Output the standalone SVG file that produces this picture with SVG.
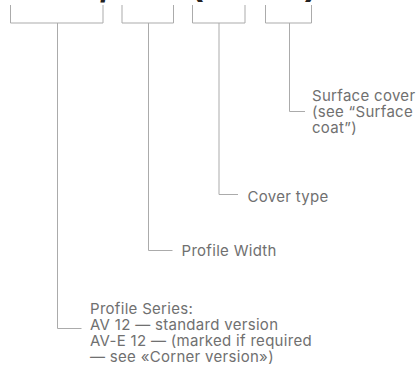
<svg xmlns="http://www.w3.org/2000/svg" width="418" height="367" viewBox="0 0 418 367">
<style>
.ln{fill:none;stroke:#ababab;stroke-width:1}
.t{font-family:Inter,"Noto Sans",sans-serif;font-size:15px;letter-spacing:0.3px;fill:#707070}
.g{font-family:"Liberation Sans",sans-serif;font-weight:bold;font-size:36px;fill:#222}
</style>
<rect width="418" height="367" fill="#fff"/>
<g id="heading">
<text class="g" x="100" y="1.5">/</text>
<text class="g" x="191" y="-6">(</text>
<text class="g" x="305" y="-6">)</text>
</g>
<g id="connectors">
<path class="ln" d="M10.5,5V23H103V5 M57.5,23V328.5H81.5"/>
<path class="ln" d="M122,5V23H173.5V5 M148.5,23V250.5H172.5"/>
<path class="ln" d="M192.5,5V23H245V5 M219,23V194.5H238"/>
<path class="ln" d="M265.5,5V23H311.5V5 M289.5,23V111.5H305"/>
</g>
<g id="surface">
<text class="t" x="312" y="101">Surface cover</text>
<text class="t" x="312" y="117">(see “Surface</text>
<text class="t" x="312" y="133">coat”)</text>
</g>
<g id="cover">
<text class="t" x="247.5" y="201.5">Cover type</text>
</g>
<g id="width">
<text class="t" x="181.5" y="256">Profile Width</text>
</g>
<g id="series">
<text class="t" x="90" y="314">Profile Series:</text>
<text class="t" x="90" y="330">AV 12 — standard version</text>
<text class="t" x="90" y="346">AV-E 12 — (marked if required</text>
<text class="t" x="90" y="362">— see «Corner version»)</text>
</g>
</svg>
